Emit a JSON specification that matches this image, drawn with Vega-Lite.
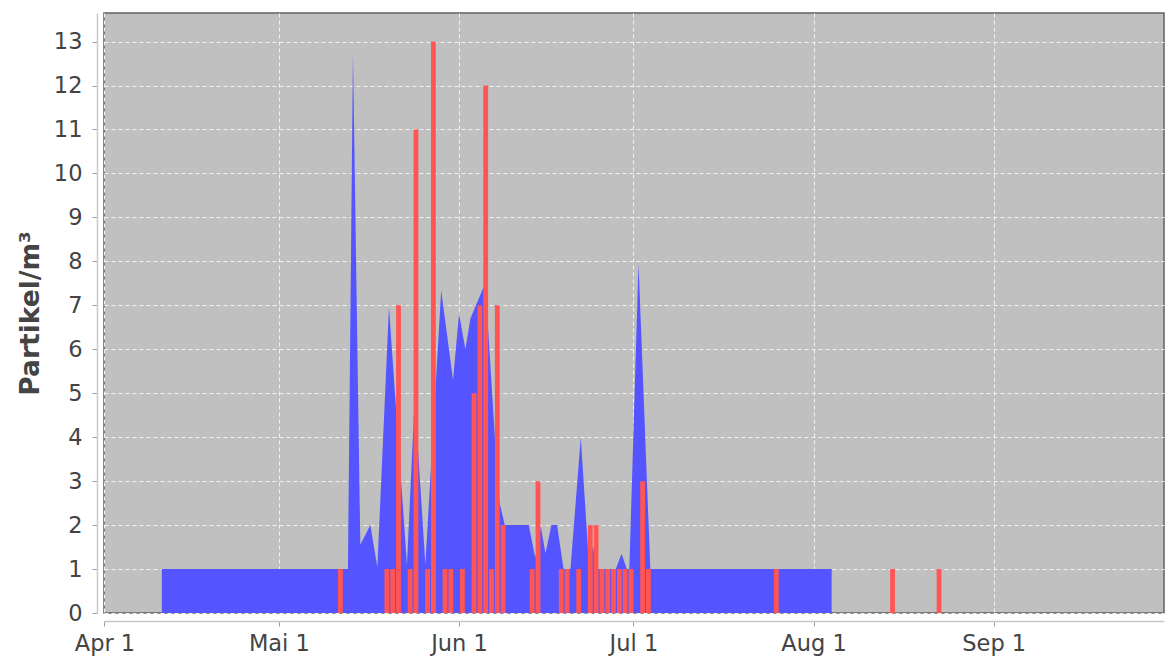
{
  "$schema": "https://vega.github.io/schema/vega-lite/v6.json",
  "width": 1060,
  "height": 600,
  "autosize": {"type": "none"},
  "padding": {"left": 104, "top": 13, "right": 2, "bottom": 44},
  "background": "white",
  "config": {
    "font": "DejaVu Sans",
    "view": {"fill": "#c0c0c0", "stroke": "#606060", "strokeWidth": 1.5},
    "axis": {
      "labelFont": "DejaVu Sans",
      "labelFontSize": 22.5,
      "labelColor": "#444444",
      "domainColor": "#c8c8c8",
      "domainWidth": 1.5,
      "tickColor": "#a0a0a0",
      "tickSize": 5,
      "gridColor": "#f2f2f2",
      "gridDash": [4, 3],
      "gridWidth": 1,
      "titleFont": "DejaVu Sans",
      "titleFontSize": 26.5,
      "titleFontWeight": "bold",
      "titleColor": "#444444"
    }
  },
  "datasets": {
    "mittel": [
      {"zeit": "2019-04-10T20:45:00Z", "wert": 1},
      {"zeit": "2019-05-12T21:15:00Z", "wert": 1},
      {"zeit": "2019-05-13T18:00:00Z", "wert": 12.75},
      {"zeit": "2019-05-15T00:30:00Z", "wert": 1.55},
      {"zeit": "2019-05-16T17:50:00Z", "wert": 2.0},
      {"zeit": "2019-05-17T22:45:00Z", "wert": 1.04},
      {"zeit": "2019-05-19T22:40:00Z", "wert": 6.96},
      {"zeit": "2019-05-23T01:00:00Z", "wert": 1.1},
      {"zeit": "2019-05-24T09:00:00Z", "wert": 4.9},
      {"zeit": "2019-05-26T05:00:00Z", "wert": 1.1},
      {"zeit": "2019-05-28T22:20:00Z", "wert": 7.34},
      {"zeit": "2019-05-30T23:10:00Z", "wert": 5.3},
      {"zeit": "2019-06-01T00:00:00Z", "wert": 6.81},
      {"zeit": "2019-06-02T02:20:00Z", "wert": 6.0},
      {"zeit": "2019-06-02T23:00:00Z", "wert": 6.7},
      {"zeit": "2019-06-05T12:10:00Z", "wert": 7.5},
      {"zeit": "2019-06-07T20:00:00Z", "wert": 2.6},
      {"zeit": "2019-06-08T20:45:00Z", "wert": 2.0},
      {"zeit": "2019-06-13T00:00:00Z", "wert": 2.0},
      {"zeit": "2019-06-14T02:45:00Z", "wert": 1.25},
      {"zeit": "2019-06-15T01:30:00Z", "wert": 1.97},
      {"zeit": "2019-06-15T21:00:00Z", "wert": 1.36},
      {"zeit": "2019-06-16T21:40:00Z", "wert": 2.0},
      {"zeit": "2019-06-17T20:50:00Z", "wert": 2.0},
      {"zeit": "2019-06-18T23:40:00Z", "wert": 1.0},
      {"zeit": "2019-06-20T04:10:00Z", "wert": 1.0},
      {"zeit": "2019-06-21T22:45:00Z", "wert": 4.0},
      {"zeit": "2019-06-23T05:45:00Z", "wert": 1.35},
      {"zeit": "2019-06-24T01:35:00Z", "wert": 1.5},
      {"zeit": "2019-06-24T19:00:00Z", "wert": 1.0},
      {"zeit": "2019-06-27T23:20:00Z", "wert": 1.0},
      {"zeit": "2019-06-28T22:55:00Z", "wert": 1.35},
      {"zeit": "2019-06-29T20:50:00Z", "wert": 1.0},
      {"zeit": "2019-06-30T07:10:00Z", "wert": 1.0},
      {"zeit": "2019-07-01T21:10:00Z", "wert": 7.95},
      {"zeit": "2019-07-03T22:00:00Z", "wert": 1.0},
      {"zeit": "2019-08-04T02:40:00Z", "wert": 1.0}
    ],
    "pollen": [
      {"zeit": "2019-05-11", "wert": 1},
      {"zeit": "2019-05-19", "wert": 1},
      {"zeit": "2019-05-20", "wert": 1},
      {"zeit": "2019-05-21", "wert": 7},
      {"zeit": "2019-05-23", "wert": 1},
      {"zeit": "2019-05-24", "wert": 11},
      {"zeit": "2019-05-26", "wert": 1},
      {"zeit": "2019-05-27", "wert": 13},
      {"zeit": "2019-05-29", "wert": 1},
      {"zeit": "2019-05-30", "wert": 1},
      {"zeit": "2019-06-01", "wert": 1},
      {"zeit": "2019-06-03", "wert": 5},
      {"zeit": "2019-06-04", "wert": 7},
      {"zeit": "2019-06-05", "wert": 12},
      {"zeit": "2019-06-06", "wert": 1},
      {"zeit": "2019-06-07", "wert": 7},
      {"zeit": "2019-06-08", "wert": 2},
      {"zeit": "2019-06-13", "wert": 1},
      {"zeit": "2019-06-14", "wert": 3},
      {"zeit": "2019-06-18", "wert": 1},
      {"zeit": "2019-06-19", "wert": 1},
      {"zeit": "2019-06-21", "wert": 1},
      {"zeit": "2019-06-23", "wert": 2},
      {"zeit": "2019-06-24", "wert": 2},
      {"zeit": "2019-06-25", "wert": 1},
      {"zeit": "2019-06-26", "wert": 1},
      {"zeit": "2019-06-27", "wert": 1},
      {"zeit": "2019-06-28", "wert": 1},
      {"zeit": "2019-06-29", "wert": 1},
      {"zeit": "2019-06-30", "wert": 1},
      {"zeit": "2019-07-02", "wert": 3},
      {"zeit": "2019-07-03", "wert": 1},
      {"zeit": "2019-07-25", "wert": 1},
      {"zeit": "2019-08-14", "wert": 1},
      {"zeit": "2019-08-22", "wert": 1}
    ]
  },
  "layer": [
    {
      "data": {"name": "mittel"},
      "mark": {"type": "area", "color": "#5555ff", "interpolate": "linear"},
      "encoding": {
        "x": {
          "field": "zeit",
          "type": "temporal",
          "scale": {"type": "utc", "domain": [1554069600000, 1569826800000], "nice": false},
          "axis": {
            "title": null,
            "values": [1554076800000, 1556668800000, 1559347200000, 1561939200000, 1564617600000, 1567296000000],
            "labelExpr": "['Jan','Feb','Mär','Apr','Mai','Jun','Jul','Aug','Sep','Okt','Nov','Dez'][utcmonth(datum.value)] + ' ' + utcdate(datum.value)",
            "labelFlush": false,
            "labelOverlap": false,
            "offset": 8,
            "labelPadding": 6,
            "grid": true
          }
        },
        "y": {
          "field": "wert",
          "type": "quantitative",
          "scale": {"domain": [0, 13.65], "nice": false, "zero": true},
          "axis": {
            "title": "Partikel/m³",
            "values": [0, 1, 2, 3, 4, 5, 6, 7, 8, 9, 10, 11, 12, 13],
            "offset": 7,
            "labelPadding": 10,
            "titlePadding": 9,
            "grid": true
          }
        }
      }
    },
    {
      "data": {"name": "pollen"},
      "mark": {"type": "bar", "color": "#ff5555"},
      "encoding": {
        "x": {"field": "zeit", "type": "temporal", "timeUnit": "utcyearmonthdate"},
        "y": {"field": "wert", "type": "quantitative"}
      }
    }
  ]
}
